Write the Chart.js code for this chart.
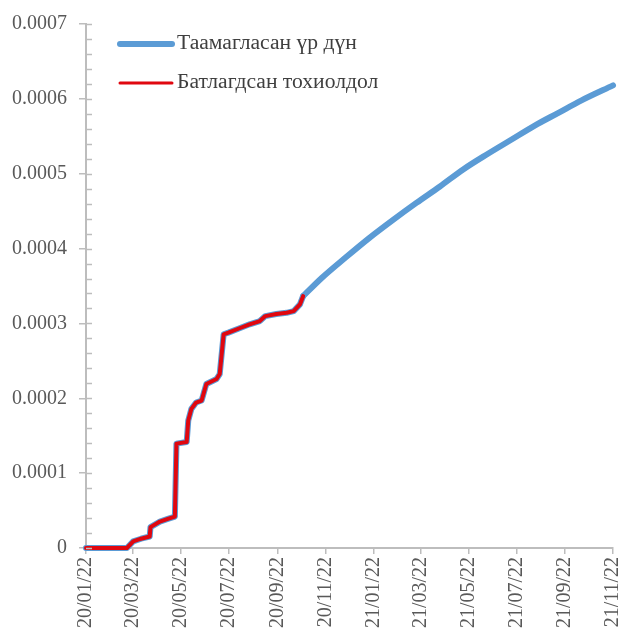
<!DOCTYPE html>
<html>
<head>
<meta charset="utf-8">
<script src="https://cdn.jsdelivr.net/npm/chart.js@4.4.1/dist/chart.umd.min.js"></script>
<style>
  html, body { margin: 0; padding: 0; background: #ffffff; }
  #wrap { position: relative; width: 622px; height: 636px; }
</style>
</head>
<body>
<div id="wrap"><canvas id="chart" width="622" height="636"></canvas></div>
<script>
// Confirmed cases (share of population), cumulative
const confirmedDates = [
  '2020-01-22', '2020-03-14', '2020-03-22', '2020-04-01', '2020-04-12', '2020-04-13',
  '2020-04-25', '2020-05-05', '2020-05-14', '2020-05-16', '2020-05-29', '2020-05-31',
  '2020-06-04', '2020-06-10', '2020-06-17', '2020-06-23', '2020-07-06', '2020-07-10',
  '2020-07-15', '2020-07-21', '2020-08-05', '2020-08-17', '2020-08-30', '2020-09-06',
  '2020-09-20', '2020-10-03', '2020-10-12', '2020-10-20', '2020-10-24'
];
const confirmedValues = [
  0, 0, 0.0000088, 0.0000124, 0.0000154, 0.0000279,
  0.0000353, 0.0000389, 0.0000420, 0.0001394, 0.0001416, 0.0001704,
  0.0001859, 0.0001943, 0.0001970, 0.0002191, 0.0002258, 0.0002324,
  0.0002855, 0.0002877, 0.0002939, 0.0002988, 0.0003032, 0.0003098,
  0.0003125, 0.0003142, 0.0003165, 0.0003254, 0.0003364
];

// Model projection
const forecastDates = [
  '2020-10-24', '2020-11-17', '2020-12-17', '2021-01-16', '2021-02-15', '2021-03-17',
  '2021-04-16', '2021-05-16', '2021-06-15', '2021-07-15', '2021-08-14', '2021-09-13',
  '2021-10-13', '2021-11-22'
];
const forecastValues = [
  0.0003364, 0.000361, 0.000388, 0.000414, 0.000438, 0.000461,
  0.000483, 0.000506, 0.000526, 0.000545, 0.000564, 0.000581,
  0.000598, 0.000618
];

// Axis ticks
const xTickDates = [
  '2020-01-22', '2020-03-22', '2020-05-22', '2020-07-22', '2020-09-22', '2020-11-22',
  '2021-01-22', '2021-03-22', '2021-05-22', '2021-07-22', '2021-09-22', '2021-11-22'
];
const yTickValues = [0, 0.0001, 0.0002, 0.0003, 0.0004, 0.0005, 0.0006, 0.0007];

const seriesLabels = ['Батлагдсан тохиолдол', 'Таамагласан үр дүн'];
const RED = '#e0070f';
const BLUE = '#5b9bd5';
const AXIS = '#bdbdbd';

const origin = Date.UTC(2020, 0, 22);
function dayOf(s) {
  const [y, m, d] = s.split('-').map(Number);
  return (Date.UTC(y, m - 1, d) - origin) / 86400000;
}
function shortLabel(s) {
  const [y, m, d] = s.split('-');
  return y.slice(2) + '/' + m + '/' + d;
}
function points(dates, values) {
  return dates.map((d, i) => ({ x: dayOf(d), y: values[i] }));
}

Chart.defaults.font.family = "'Liberation Serif', 'Times New Roman', serif";
Chart.defaults.color = '#595959';

// Inner (crossing) major ticks and minor ticks on the value axis
const axisTicks = {
  id: 'axisTicks',
  afterDraw(chart) {
    const { ctx, scales: { x, y } } = chart;
    const ax = x.left;
    ctx.save();
    ctx.strokeStyle = AXIS;
    ctx.lineWidth = 1.5;
    const max = yTickValues[yTickValues.length - 1];
    for (let i = 0; i <= 35; i++) {
      const v = max * i / 35;
      const py = Math.round(y.getPixelForValue(v)) + 0.5;
      ctx.beginPath();
      ctx.moveTo(ax, py);
      ctx.lineTo(ax + 6, py);
      ctx.stroke();
    }
    ctx.restore();
  }
};

// Legend drawn inside the plot, top-left
const insideLegend = {
  id: 'insideLegend',
  afterDraw(chart) {
    const { ctx } = chart;
    const items = [
      { ds: chart.data.datasets[1], y: 44, w: 6 },
      { ds: chart.data.datasets[0], y: 83, w: 3 }
    ];
    ctx.save();
    ctx.font = "20px 'Liberation Serif', 'Times New Roman', serif";
    ctx.textBaseline = 'middle';
    ctx.fillStyle = '#3f3f3f';
    ctx.lineCap = 'round';
    items.forEach(it => {
      ctx.strokeStyle = it.ds.borderColor;
      ctx.lineWidth = it.w;
      ctx.beginPath();
      ctx.moveTo(120, it.y);
      ctx.lineTo(172, it.y);
      ctx.stroke();
      ctx.save();
      ctx.translate(177, it.y);
      ctx.scale(1.08, 1);
      ctx.fillText(it.ds.label, 0, 0);
      ctx.restore();
    });
    ctx.restore();
  }
};

new Chart(document.getElementById('chart'), {
  type: 'line',
  data: {
    datasets: [
      {
        label: seriesLabels[0],
        data: points(confirmedDates, confirmedValues),
        borderColor: RED,
        borderWidth: 4,
        pointRadius: 0,
        tension: 0,
        borderJoinStyle: 'round',
        borderCapStyle: 'round',
        clip: 8,
        order: 0
      },
      {
        label: seriesLabels[1],
        data: points(forecastDates, forecastValues),
        borderColor: BLUE,
        borderWidth: 6,
        pointRadius: 0,
        cubicInterpolationMode: 'monotone',
        borderCapStyle: 'round',
        borderJoinStyle: 'round',
        clip: 8,
        order: 1
      },
      {
        label: seriesLabels[1],
        data: points(confirmedDates, confirmedValues),
        borderColor: BLUE,
        borderWidth: 6,
        pointRadius: 0,
        tension: 0,
        borderCapStyle: 'round',
        borderJoinStyle: 'round',
        clip: 8,
        order: 2
      }
    ]
  },
  options: {
    responsive: false,
    animation: false,
    layout: { padding: { left: 0, top: 21, right: 9, bottom: 0 } },
    plugins: {
      legend: { display: false },
      tooltip: { enabled: false }
    },
    scales: {
      x: {
        type: 'linear',
        min: 0,
        max: dayOf(xTickDates[xTickDates.length - 1]),
        afterBuildTicks(scale) {
          scale.ticks = xTickDates.map(d => ({ value: dayOf(d) }));
        },
        afterFit(scale) {
          scale.height = 88;
          scale.paddingLeft = 0;
          scale.paddingRight = 0;
        },
        ticks: {
          autoSkip: false,
          minRotation: 90,
          maxRotation: 90,
          padding: 3,
          font: { size: 20 },
          color: '#595959',
          callback: (v, i) => shortLabel(xTickDates[i])
        },
        grid: {
          drawOnChartArea: false,
          drawTicks: true,
          tickLength: 6,
          color: AXIS,
          lineWidth: 1.5
        },
        border: { color: AXIS, width: 2 }
      },
      y: {
        min: 0,
        max: yTickValues[yTickValues.length - 1],
        afterBuildTicks(scale) {
          scale.ticks = yTickValues.map(v => ({ value: v }));
        },
        afterFit(scale) { scale.width = 86; },
        ticks: {
          padding: 12,
          font: { size: 20 },
          color: '#595959',
          callback: v => (v === 0 ? '0' : v.toFixed(4))
        },
        grid: {
          drawOnChartArea: false,
          drawTicks: true,
          tickLength: 7,
          color: AXIS,
          lineWidth: 1.5
        },
        border: { color: AXIS, width: 2 }
      }
    }
  },
  plugins: [axisTicks, insideLegend]
});
</script>
</body>
</html>
